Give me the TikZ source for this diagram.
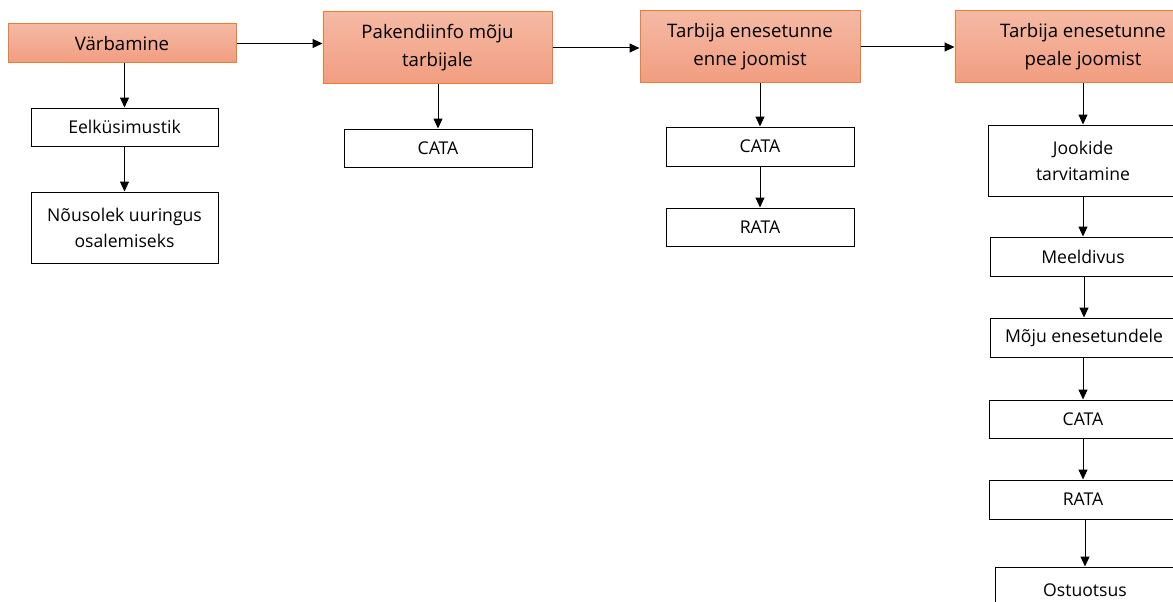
\documentclass[tikz,border=0pt]{standalone}
\usepackage{fontspec}
\setmainfont{Open Sans}
\usetikzlibrary{arrows.meta}
\definecolor{headtop}{HTML}{F5B9A4}
\definecolor{headbot}{HTML}{F19D80}
\definecolor{headline}{HTML}{ED7D31}
\begin{document}
\begin{tikzpicture}[x=1pt,y=-1pt,
  head/.style={draw=headline, line width=1pt, top color=headtop, bottom color=headbot, align=center, inner sep=0pt, font=\fontsize{18.6}{28}\selectfont},
  item/.style={draw, line width=1pt, fill=white, align=center, inner sep=0pt, font=\fontsize{17.6}{26}\selectfont},
  arr/.style={-{Triangle[length=10pt,width=9pt]}, line width=1pt}]
\useasboundingbox (0,0) rectangle (1173,602);
\clip (0,0) rectangle (1173,602);
\node[head, minimum width=228, minimum height=39] (varb) at (122,43.5){Värbamine};
\node[item, minimum width=187, minimum height=38] (eelk) at (124.5,127){Eelküsimustik};
\node[item, minimum width=187, minimum height=71] (nous) at (124.5,227.5){Nõusolek uuringus\\osalemiseks};
\draw[arr](varb.south -| eelk.north) -- (eelk);
\draw[arr](eelk) -- (nous);
\node[head, minimum width=229, minimum height=72] (pak) at (437.5,48){Pakendiinfo mõju\\tarbijale};
\node[item, minimum width=188, minimum height=38] (cata1) at (438,148){CATA};
\draw[arr](pak.south -| cata1.north) -- (cata1);
\node[head, minimum width=220, minimum height=72] (enne) at (750,47){Tarbija enesetunne\\enne joomist};
\node[item, minimum width=188, minimum height=39] (cata2) at (760,146.5){CATA};
\node[item, minimum width=188, minimum height=38] (rata2) at (760,227){RATA};
\draw[arr](enne.south -| cata2.north) -- (cata2);
\draw[arr](cata2) -- (rata2);
\node[head, minimum width=256, minimum height=72] (peale) at (1083,47){Tarbija enesetunne\\peale joomist};
\node[item, minimum width=190, minimum height=71] (jook) at (1083,160.5){Jookide\\tarvitamine};
\node[item, minimum width=186, minimum height=39] (meel) at (1083,256.5){Meeldivus};
\node[item, minimum width=188, minimum height=39] (moju) at (1084,337.5){Mõju enesetundele};
\node[item, minimum width=188, minimum height=38] (cata3) at (1083,419){CATA};
\node[item, minimum width=188, minimum height=39] (rata3) at (1083,499.5){RATA};
\node[item, minimum width=180, minimum height=46] (ostu) at (1085,590){Ostuotsus};
\draw[arr](peale.south -| jook.north) -- (jook);
\draw[arr](jook.south -| meel.north) -- (meel);
\draw[arr](meel.south -| moju.north) -- (moju);
\draw[arr](moju.south -| cata3.north) -- (cata3);
\draw[arr](cata3.south -| rata3.north) -- (rata3);
\draw[arr](rata3.south -| ostu.north) -- (ostu);
\draw[arr](varb.east) -- (varb.east -| pak.west);
\draw[arr](pak.east) -- (pak.east -| enne.west);
\draw[arr](enne.east) -- (enne.east -| peale.west);
\end{tikzpicture}
\end{document}
